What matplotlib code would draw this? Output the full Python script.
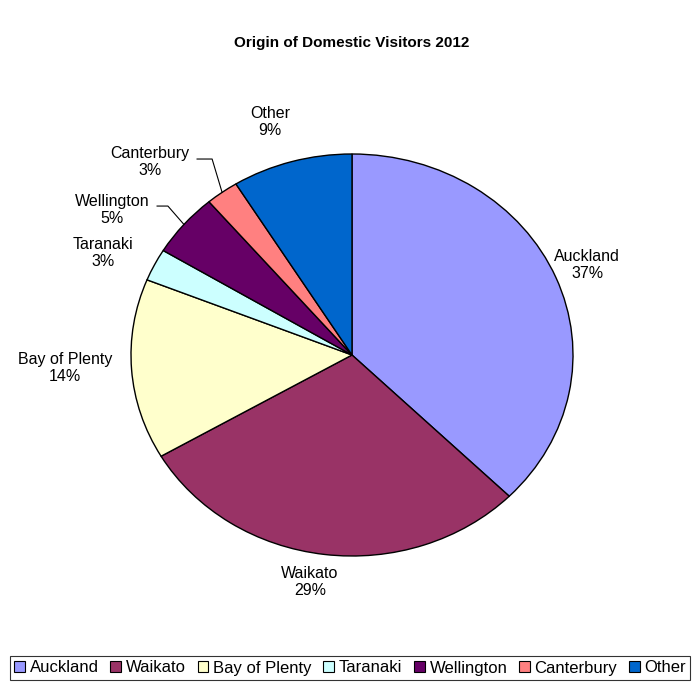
import matplotlib.pyplot as plt
from matplotlib.patches import Patch
import numpy as np

plt.rcParams['font.family'] = ['Liberation Sans', 'DejaVu Sans']

regions = ['Auckland', 'Waikato', 'Bay of Plenty', 'Taranaki', 'Wellington', 'Canterbury', 'Other']
shares = [37.4, 29.2, 14.5, 2.6, 5.1, 2.4, 8.8]
pct_labels = ['37%', '29%', '14%', '3%', '5%', '3%', '9%']
colors = ['#9999FF', '#993366', '#FFFFCC', '#CCFFFF', '#660066', '#FF8080', '#0066CC']

# label centres (pie radius units) and leader-line elbows
label_pos = [(1.065, 0.448), (-0.190, -1.129), (-1.300, -0.065), (-1.127, 0.507),
             (-1.085, 0.721), (-0.914, 0.960), (-0.371, 1.159)]
leader_elbow = {4: [(-0.833, 0.741), (-0.882, 0.741)],
                5: [(-0.633, 0.975), (-0.701, 0.975)]}

fig = plt.figure(figsize=(6.92, 6.86), dpi=100)
ax = fig.add_axes([0, 0, 1, 1])

wedges, _ = ax.pie(shares, colors=colors, startangle=90, counterclock=False,
                   wedgeprops={'edgecolor': 'black', 'linewidth': 1.0})
ax.set_aspect('auto')
# pie is a bit wider than tall in the original
ax.set_xlim(-352 / 221, 340 / 221)
ax.set_ylim(-331 / 201, 355 / 201)
ax.axis('off')

for i, w in enumerate(wedges):
    lx, ly = label_pos[i]
    ax.text(lx, ly, regions[i] + '\n' + pct_labels[i], ha='center', va='center',
            fontsize=11.5, linespacing=1.1)
    if i in leader_elbow:
        mid = np.deg2rad((w.theta1 + w.theta2) / 2)
        pts = [(np.cos(mid), np.sin(mid))] + leader_elbow[i]
        xs, ys = zip(*pts)
        ax.plot(xs, ys, color='black', linewidth=0.8)

fig.text(0.508, 1 - 43 / 686, 'Origin of Domestic Visitors 2012', ha='center', va='center',
         fontsize=11, fontweight='bold')

handles = [Patch(facecolor=c, edgecolor='black', linewidth=0.8) for c in colors]
leg = fig.legend(handles, regions, loc='center', bbox_to_anchor=(0.506, 1 - 668 / 686),
                 ncol=7, fontsize=12, handlelength=0.65, handleheight=0.65,
                 handletextpad=0.3, columnspacing=0.68, borderpad=0.25, borderaxespad=0,
                 fancybox=False, frameon=True)
leg.get_frame().set_edgecolor('black')
leg.get_frame().set_linewidth(0.8)

fig.savefig('out.png', dpi=100, facecolor='white')
